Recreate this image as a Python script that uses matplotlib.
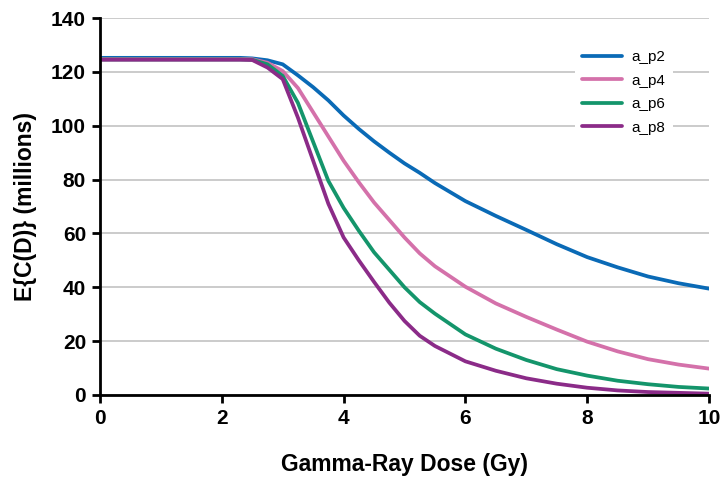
import matplotlib
matplotlib.use("Agg")
import matplotlib.pyplot as plt

dose = [0, 1, 2, 2.3, 2.5, 2.75, 3.0, 3.25, 3.5, 3.75, 4.0, 4.25, 4.5, 4.75, 5.0, 5.25,
        5.5, 6.0, 6.5, 7.0, 7.5, 8.0, 8.5, 9.0, 9.5, 10.0]
a_p2 = [125.2, 125.2, 125.2, 125.2, 125.0, 124.3, 122.8, 118.7, 114.3, 109.4, 103.8, 98.8, 94.2, 90.0, 86.0, 82.5,
        78.7, 72.0, 66.5, 61.3, 56.0, 51.2, 47.4, 44.0, 41.5, 39.5]
a_p4 = [124.8, 124.8, 124.8, 124.8, 124.7, 123.4, 120.3, 114.0, 105.0, 96.0, 87.0, 79.0, 71.5, 65.0, 58.5, 52.6,
        47.8, 40.2, 34.0, 29.0, 24.3, 19.8, 16.2, 13.3, 11.3, 9.8]
a_p6 = [124.6, 124.6, 124.6, 124.6, 124.5, 122.8, 118.5, 108.5, 94.0, 79.5, 69.5, 61.0, 53.0, 46.5, 40.0, 34.5,
        30.2, 22.5, 17.2, 13.0, 9.6, 7.2, 5.3, 4.0, 3.0, 2.4]
a_p8 = [124.5, 124.5, 124.5, 124.5, 124.4, 121.6, 117.3, 103.0, 87.0, 71.0, 58.5, 50.0, 42.0, 34.3, 27.5, 22.0,
        18.2, 12.5, 9.0, 6.2, 4.2, 2.7, 1.7, 1.1, 0.8, 0.5]

series = [("a_p2", a_p2, "#0A6AB6"), ("a_p4", a_p4, "#D471AA"),
          ("a_p6", a_p6, "#14956B"), ("a_p8", a_p8, "#8B2B88")]

plt.rcParams['font.family'] = ['Liberation Sans', 'DejaVu Sans']

fig = plt.figure(figsize=(7.2, 4.79), dpi=100)
ax = fig.add_axes([100/720, 1 - 395/479, 609/720, 377/479])

for name, vals, col in series:
    ax.plot(dose, vals, color=col, lw=2.7, label=name,
            solid_capstyle='round', solid_joinstyle='round')

ax.set_xlim(0, 10)
ax.set_ylim(0, 140)
ax.set_xticks([0, 2, 4, 6, 8, 10])
ax.set_yticks(range(0, 141, 20))
ax.yaxis.grid(True, color="#BDBDBD", lw=1.1)
ax.set_axisbelow(True)
for s in ["top", "right"]:
    ax.spines[s].set_visible(False)
for s in ["left", "bottom"]:
    ax.spines[s].set_linewidth(2)
    ax.spines[s].set_zorder(5)
ax.tick_params(axis='both', direction='out', length=6, width=2,
               labelsize=15, pad=4)
for lab in ax.get_xticklabels() + ax.get_yticklabels():
    lab.set_fontweight('bold')

ax.set_xlabel("Gamma-Ray Dose (Gy)", fontsize=16.5, fontweight='bold', labelpad=18)
ax.set_ylabel("E{C(D)} (millions)", fontsize=16.5, fontweight='bold', labelpad=10)

leg = ax.legend(loc='upper left', bbox_to_anchor=(567/720, 1 - 35/479),
                bbox_transform=fig.transFigure, frameon=True,
                fancybox=False, edgecolor='none', facecolor='white', framealpha=1,
                fontsize=11, handlelength=2.6, labelspacing=0.62, handletextpad=0.6,
                borderpad=0.5)

fig.savefig("out.png", dpi=100)
